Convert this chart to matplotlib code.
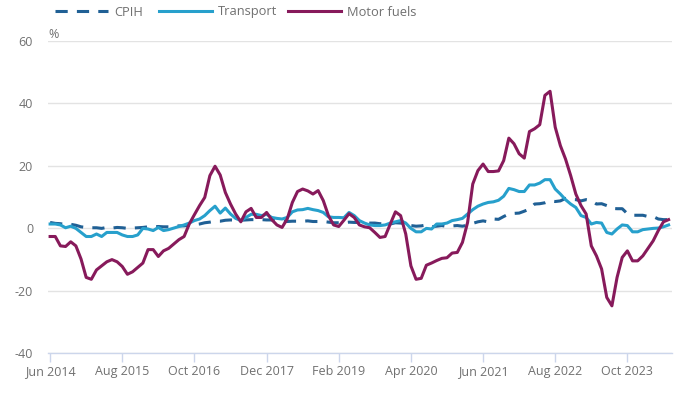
import matplotlib
matplotlib.use("Agg")
import matplotlib.pyplot as plt

plt.rcParams['font.family'] = ['Open Sans', 'DejaVu Sans']
plt.rcParams['axes.unicode_minus'] = False

# monthly, Jun 2014 to Jun 2024
cpih = [1.9, 1.6, 1.5, 1.2, 1.3, 1.0, 0.5,
        0.3, 0.2, 0.2, 0.0, 0.3, 0.1, 0.3, 0.2, 0.0, 0.1, 0.2, 0.3,
        0.5, 0.5, 0.6, 0.5, 0.5, 0.7, 0.8, 0.8, 1.0, 1.2, 1.4, 1.8,
        2.0, 2.3, 2.3, 2.6, 2.7, 2.6, 2.6, 2.7, 2.8, 2.8, 2.8, 2.7,
        2.7, 2.5, 2.3, 2.2, 2.3, 2.3, 2.3, 2.4, 2.2, 2.2, 2.2, 2.0,
        1.8, 1.8, 1.8, 2.0, 1.9, 1.9, 2.0, 1.7, 1.7, 1.5, 1.5, 1.4,
        1.8, 1.7, 1.5, 0.9, 0.7, 0.8, 1.1, 0.5, 0.7, 0.9, 0.6, 0.8,
        0.9, 0.7, 1.0, 1.6, 2.1, 2.4, 2.1, 3.0, 2.9, 3.8, 4.6, 4.8,
        4.9, 5.5, 6.2, 7.8, 7.9, 8.2, 8.8, 8.6, 8.8, 9.6, 9.3, 9.2,
        8.8, 9.2, 8.9, 7.8, 7.9, 7.3, 6.4, 6.3, 6.3, 4.7, 4.2, 4.2,
        4.2, 3.8, 3.8, 3.0, 2.8, 2.8]

transport = [1.4, 1.4, 1.1, 0.2, 0.7, 0.0, -1.3,
             -2.6, -2.6, -1.8, -2.6, -1.3, -1.3, -1.3, -2.1, -2.6, -2.6, -2.1, 0.0,
             -0.2, -0.7, 0.3, -0.7, -0.4, 0.1, 0.6, 1.1, 1.7, 2.5, 3.0, 4.1,
             5.7, 7.1, 4.9, 6.5, 4.6, 3.2, 2.5, 3.5, 4.5, 4.5, 4.1, 4.5,
             3.5, 3.2, 3.0, 3.5, 5.3, 5.9, 6.0, 6.4, 6.0, 5.7, 5.1, 3.7,
             3.5, 3.5, 3.4, 5.1, 4.1, 2.5, 1.7, 1.1, 0.9, 0.9, 1.1, 1.7,
             2.1, 2.5, 1.7, 0.0, -1.1, -1.1, 0.0, -0.2, 1.4, 1.4, 1.7, 2.5,
             2.8, 3.2, 4.6, 6.0, 7.1, 7.8, 8.3, 8.5, 9.0, 10.3, 12.8, 12.4,
             11.8, 11.8, 13.9, 13.9, 14.5, 15.6, 15.6, 12.6, 11.0, 9.2, 7.8, 6.7,
             4.1, 3.5, 1.4, 1.9, 1.7, -1.3, -1.8, -0.2, 1.1, 0.9, -1.1, -1.1,
             -0.4, -0.2, 0.0, 0.1, 0.5, 1.1]

motor_fuels = [-2.6, -2.6, -5.6, -5.8, -4.3, -5.6, -9.8,
               -15.7, -16.3, -13.3, -12.0, -10.7, -10.0, -10.7, -12.2, -14.7, -13.9, -12.5, -11.1,
               -6.8, -6.8, -9.0, -7.2, -6.4, -5.0, -3.6, -2.6, 1.4, 4.4, 7.3, 9.9,
               16.9, 19.9, 17.1, 11.5, 7.8, 4.6, 2.1, 5.3, 6.4, 3.5, 3.5, 5.1,
               2.8, 1.1, 0.3, 3.0, 8.3, 11.8, 12.6, 12.0, 11.0, 12.1, 8.9, 4.1,
               1.1, 0.6, 2.6, 4.7, 3.5, 1.1, 0.5, 0.2, -1.3, -2.9, -2.6, 1.4,
               5.3, 4.1, -1.8, -12.0, -16.3, -16.0, -11.8, -11.1, -10.3, -9.6, -9.4, -7.9,
               -7.7, -4.5, 1.9, 14.2, 18.5, 20.6, 18.2, 18.2, 18.4, 21.7, 28.9, 27.1,
               23.9, 22.5, 31.0, 31.9, 33.2, 42.6, 43.9, 32.4, 26.5, 22.2, 16.9, 11.0,
               7.3, 4.6, -5.6, -8.8, -13.0, -22.1, -24.8, -15.7, -9.3, -7.2, -10.4, -10.4,
               -8.8, -6.4, -4.0, -0.7, 2.1, 2.8]

tick_labels = ["Jun 2014", "Aug 2015", "Oct 2016", "Dec 2017", "Feb 2019",
               "Apr 2020", "Jun 2021", "Aug 2022", "Oct 2023"]
y_ticks = [-40, -20, 0, 20, 40, 60]

months = list(range(len(cpih)))

fig = plt.figure(figsize=(7, 4.01), dpi=100)
ax = fig.add_axes([48.3 / 700, 1 - 353.3 / 401, (671.7 - 48.3) / 700, (353.3 - 41) / 401])

l1, = ax.plot(months, cpih, color='#206095', lw=2.2, dashes=(4, 3), label='CPIH', zorder=3)
l2, = ax.plot(months, transport, color='#27a0cc', lw=2.2, label='Transport', zorder=4)
l3, = ax.plot(months, motor_fuels, color='#871a5b', lw=2.2, label='Motor fuels', zorder=5)

ax.set_xlim(-0.35, 120.6)
ax.set_ylim(-40, 60)
ax.set_yticks(y_ticks)
ax.set_yticklabels([str(v) for v in y_ticks])
ax.set_xticks(months[::14])
ax.set_xticklabels(tick_labels)

for s in ['top', 'right', 'left']:
    ax.spines[s].set_visible(False)
ax.spines['bottom'].set_color('#ccd6eb')
ax.spines['bottom'].set_linewidth(1)

ax.yaxis.grid(True, color='#e3e3e3', lw=1)
ax.set_axisbelow(True)
ax.tick_params(axis='y', length=0, pad=11, labelsize=9, labelcolor='#707070')
ax.tick_params(axis='x', length=6.5, width=1, color='#ccd6eb', pad=2,
               labelsize=9, labelcolor='#707070')

fig.text(48 / 700, 1 - 34 / 401, '%', fontsize=9, color='#707070', va='center', ha='left')

# one legend per entry so each sits where the original puts it
for line, x0 in [(l1, 55), (l2, 159), (l3, 288)]:
    fig.legend(handles=[line], loc='center left', bbox_to_anchor=(x0 / 700, 1 - 12 / 401),
               frameon=False, fontsize=9.3, labelcolor='#707070', handlelength=4.1,
               handletextpad=0.45, borderpad=0, borderaxespad=0)

fig.savefig('out.png', dpi=100)
